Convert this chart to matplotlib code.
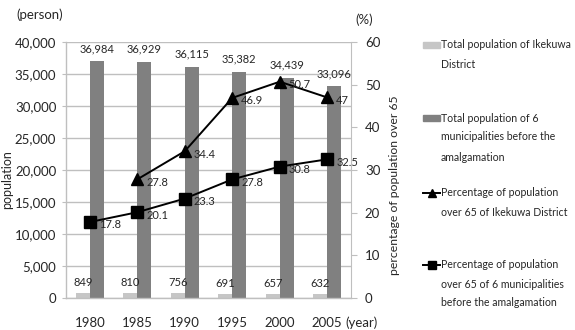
import matplotlib
matplotlib.use("Agg")
import matplotlib.pyplot as plt
import numpy as np
from matplotlib.lines import Line2D
from matplotlib.patches import Rectangle

years = ["1980", "1985", "1990", "1995", "2000", "2005"]
pop_district = [849, 810, 756, 691, 657, 632]
pop_six = [36984, 36929, 36115, 35382, 34439, 33096]
pct_district = [np.nan, 27.8, 34.4, 46.9, 50.7, 47]
pct_six = [17.8, 20.1, 23.3, 27.8, 30.8, 32.5]
left_ticks = [0, 5000, 10000, 15000, 20000, 25000, 30000, 35000, 40000]
right_ticks = [0, 10, 20, 30, 40, 50, 60]

legend_labels = [
    ["Total population of Ikekuwa", "District"],
    ["Total population of 6", "municipalities before the", "amalgamation"],
    ["Percentage of population", "over 65 of Ikekuwa District"],
    ["Percentage of population", "over 65 of 6 municipalities", "before the amalgamation"],
]

plt.rcParams['font.family'] = ['Lato', 'DejaVu Sans']
TXT = '#262626'
LIGHT = '#c6c6c6'
DARK = '#808080'
GRID = '#bfbfbf'

W, H = 575, 330
fig = plt.figure(figsize=(W / 100, H / 100), dpi=100)
ax = fig.add_axes([66 / W, 1 - 298 / H, (351 - 66) / W, (298 - 42) / H])

x = np.arange(len(years))
bw = 0.29
ax.bar(x - bw / 2, pop_district, width=bw, color=LIGHT, zorder=2)
ax.bar(x + bw / 2, pop_six, width=bw, color=DARK, zorder=2)
ax.set_xlim(-0.5, len(years) - 0.5)
ax.set_ylim(0, 40000)
ax.set_yticks(left_ticks)
ax.set_yticklabels([f"{v:,}" for v in left_ticks], fontsize=9.5, color=TXT)
ax.set_xticks(x)
ax.set_xticklabels(years, fontsize=9.5, color=TXT)
ax.tick_params(axis='x', length=0, pad=14)
ax.tick_params(axis='y', length=3, color=GRID, pad=4)
ax.grid(axis='y', color=GRID, linewidth=1, zorder=0)
ax.set_axisbelow(True)
for s in ['top', 'right']:
    ax.spines[s].set_visible(False)
for s in ['left', 'bottom']:
    ax.spines[s].set_color(GRID)
    ax.spines[s].set_linewidth(1)

for xi, v in zip(x, pop_district):
    ax.annotate(f"{v:,}", (xi - bw / 2, v), xytext=(0, 3.5), textcoords='offset points',
                ha='center', va='bottom', fontsize=8, color=TXT)
for xi, v in zip(x, pop_six):
    ax.annotate(f"{v:,}", (xi + bw / 2, v), xytext=(0, 5), textcoords='offset points',
                ha='center', va='bottom', fontsize=8, color=TXT)

ax2 = ax.twinx()
ax2.set_ylim(0, 60)
ax2.set_yticks(right_ticks)
ax2.set_yticklabels([str(v) for v in right_ticks], fontsize=9.5, color=TXT)
ax2.tick_params(axis='y', length=4, color=GRID, pad=6)
for s in ['top', 'left', 'bottom']:
    ax2.spines[s].set_visible(False)
ax2.spines['right'].set_color(GRID)

ax2.plot(x, pct_district, color='black', linewidth=1.4, marker='^', markersize=8, zorder=3)
ax2.plot(x, pct_six, color='black', linewidth=1.4, marker='s', markersize=8, zorder=3)
for xi, v in zip(x, pct_district):
    if not np.isnan(v):
        ax2.annotate(f"{v:g}", (xi, v), xytext=(6.5, -2), textcoords='offset points',
                     ha='left', va='center', fontsize=8, color=TXT)
for xi, v in zip(x, pct_six):
    ax2.annotate(f"{v:g}", (xi, v), xytext=(6.5, -2), textcoords='offset points',
                 ha='left', va='center', fontsize=8, color=TXT)

fig.text(40 / W, 1 - 15 / H, "(person)", ha='center', va='center', fontsize=9.5, color=TXT)
fig.text(364 / W, 1 - 20 / H, "(%)", ha='center', va='center', fontsize=9.5, color=TXT)
fig.text(362 / W, 1 - 323 / H, "(year)", ha='center', va='center', fontsize=9.5, color=TXT)
fig.text(7 / W, 1 - 180 / H, "population", ha='center', va='center', rotation=90,
         fontsize=9, color=TXT)
fig.text(395 / W, 1 - 185 / H, "percentage of population over 65", ha='center', va='center',
         rotation=90, fontsize=8.8, color=TXT)

# legend (manual, one text per line)
line_y = [[45, 65], [118, 137, 157], [193, 212], [265, 284, 302]]
kinds = ['light', 'dark', 'tri', 'sq']
for ys, lines, kind in zip(line_y, legend_labels, kinds):
    for yy, ln in zip(ys, lines):
        fig.text(441 / W, 1 - yy / H, ln, ha='left', va='center', fontsize=7.6, color=TXT)
    yc = 1 - ys[0] / H
    if kind in ('light', 'dark'):
        fig.add_artist(Rectangle((423 / W, yc - 3 / H), 17 / W, 6 / H,
                                 transform=fig.transFigure,
                                 color=LIGHT if kind == 'light' else DARK))
    else:
        fig.add_artist(Line2D([423 / W, 440 / W], [yc, yc], transform=fig.transFigure,
                              color='black', linewidth=1.4))
        fig.add_artist(Line2D([431.5 / W], [yc], transform=fig.transFigure,
                              color='black', linestyle='none',
                              marker='^' if kind == 'tri' else 's', markersize=6))

fig.savefig("out.png", dpi=100)
